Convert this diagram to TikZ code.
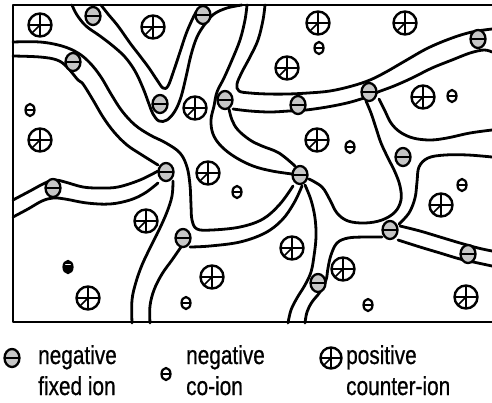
\documentclass[tikz,border=0pt]{standalone}
\usepackage{fontspec}
\usepackage{graphicx}
\setmainfont{Liberation Sans}
\newfontfamily\legfont[FakeBold=0.8]{Liberation Sans}
\usetikzlibrary{shapes.geometric}

\tikzset{
  wall/.style={line width=2.8pt, line cap=round, line join=round},
  frameline/.style={line width=2.2pt, line cap=round, line join=round},
  fixedion/.style={ellipse, draw, line width=2.3pt, fill=black!22, inner sep=0pt,
    minimum width=15pt, minimum height=18pt,
    path picture={\draw[line width=2.4pt] (path picture bounding box.west) -- (path picture bounding box.east);}},
  counterion/.style={circle, draw, line width=2.4pt, fill=white, inner sep=0pt,
    minimum size=23pt,
    path picture={\draw[line width=1.7pt]
      (path picture bounding box.north) -- (path picture bounding box.south)
      (path picture bounding box.west) -- (path picture bounding box.east)
      (path picture bounding box.center) -- (path picture bounding box.south west);}},
  coion/.style={ellipse, draw, line width=2.2pt, fill=white, inner sep=0pt,
    minimum width=9pt, minimum height=12pt,
    path picture={\draw[line width=2pt] (path picture bounding box.west) -- (path picture bounding box.east);}},
  coiondark/.style={ellipse, draw, line width=2.2pt, fill=black, inner sep=0pt,
    minimum width=9pt, minimum height=12pt,
    path picture={\draw[white, line width=1.8pt] ([yshift=2.6pt]path picture bounding box.west) -- ([yshift=2.6pt]path picture bounding box.east);}},
  legtext/.style={font=\legfont\fontsize{26}{31}\selectfont, inner sep=0pt, anchor=base west},
}

\newcommand{\narrow}[1]{\scalebox{0.8}[1]{#1}}

\begin{document}
\begin{tikzpicture}[x=1pt, y=-1pt]
\useasboundingbox (0,0) rectangle (492,402);

% membrane frame
\draw[frameline] (492,5) -- (13,5) -- (13,322) -- (492,322);

% ---- channel walls ----
% upper-left channel, upper wall, bending down into the lower-middle channel
\draw[wall] plot[smooth, tension=0.6] coordinates {(13,42) (40,42) (62,46) (78,53) (90,63) (101,77) (111,94) (122,111) (135,125) (150,135) (166,143) (180,153) (187,167) (190,185) (191,205) (192,220) (197,229) (212,230) (240,227) (263,219) (280,204) (293,186)};
% upper-left channel, lower wall
\draw[wall] plot[smooth, tension=0.6] coordinates {(13,56) (40,57) (57,60) (67,67) (78,80) (83,84) (93,100) (103,117) (114,132) (127,145) (142,155) (158,165)};
% V-shaped channel, outer wall
\draw[wall] plot[smooth, tension=0.6] coordinates {(72,5) (77,15) (86,26) (100,36) (113,46) (125,57) (135,71) (143,88) (149,104) (153,114) (159,121) (167,120) (175,111) (181,97) (186,77) (191,55) (197,37) (205,24) (214,14) (227,8) (242,5)};
% V-shaped channel, inner wall
\draw[wall] plot[smooth, tension=0.6] coordinates {(101,5) (108,14) (118,26) (130,43) (140,56) (149,68) (157,80) (163,88) (168,86) (174,70) (180,52) (186,34) (192,20) (196,12)};
% top channel, left wall continuing down to the centre
\draw[wall] plot[smooth, tension=0.6] coordinates {(247,5) (245,20) (240,40) (232,60) (224,78) (217,92) (214,106) (211,120) (213,134) (221,146) (235,157) (253,166) (272,171) (292,174)};
% top channel, right wall turning into the upper wall of the long channel
\draw[wall] plot[smooth, tension=0.6] coordinates {(265,5) (263,20) (258,40) (250,57) (242,72) (237,84) (239,91) (250,93) (268,94) (288,94) (308,93) (330,91) (352,86) (370,80) (386,72) (405,61) (428,48) (452,38) (472,32) (492,29)};
% long channel, lower wall
\draw[wall] plot[smooth, tension=0.6] coordinates {(233,109) (250,111) (270,112) (289,111) (306,110) (327,107) (347,103) (361,99) (370,96) (378,92) (394,86) (412,78) (432,68) (452,60) (470,53) (484,50) (492,52)};
% centre channel, upper wall
\draw[wall] plot[smooth, tension=0.6] coordinates {(229,109) (232,120) (238,130) (250,140) (262,146) (279,153) (295,166)};
% descending channel, left wall and basin
\draw[wall] plot[smooth, tension=0.6] coordinates {(366,101) (371,113) (376,128) (381,143) (388,158) (395,172) (400,186) (401,200) (395,212) (382,220) (365,223) (348,221) (337,213) (330,200) (322,187) (309,179)};
% descending channel, right wall
\draw[wall] plot[smooth, tension=0.6] coordinates {(379,99) (385,111) (391,123) (400,132) (413,138) (430,140) (447,138) (470,133) (492,130)};
% right channel, lower wall turning down
\draw[wall] plot[smooth, tension=0.6] coordinates {(492,157) (468,155) (445,155) (428,158) (419,167) (417,182) (415,198) (409,213) (399,224)};
% lower-right channel walls
\draw[wall] plot[smooth, tension=0.6] coordinates {(400,226) (420,231) (440,237) (460,243) (478,248) (492,251)};
\draw[wall] plot[smooth, tension=0.6] coordinates {(398,240) (420,247) (440,253) (460,259) (478,263) (492,266)};
% bottom channel, right wall
\draw[wall] plot[smooth, tension=0.6] coordinates {(382,237) (365,237) (348,238) (337,243) (331,255) (328,268) (326,280) (320,292) (312,302) (307,312) (305,323)};
% bottom channel, left wall
\draw[wall] plot[smooth, tension=0.6] coordinates {(305,185) (311,200) (315,218) (316,237) (314,256) (311,272) (305,285) (297,298) (291,310) (288,323)};
% lower-middle channel, lower wall
\draw[wall] plot[smooth, tension=0.6] coordinates {(190,247) (210,246) (240,242) (265,233) (282,220) (294,203) (302,186)};
% left channel walls
\draw[wall] plot[smooth, tension=0.6] coordinates {(13,200) (30,191) (45,183) (55,180) (65,182) (83,187) (100,188) (118,187) (140,180) (158,171)};
\draw[wall] plot[smooth, tension=0.6] coordinates {(13,217) (28,209) (42,201) (53,198) (65,199) (87,203) (110,204) (130,200) (145,193) (158,183)};
% lower-left channel walls
\draw[wall] plot[smooth, tension=0.6] coordinates {(173,181) (172,196) (167,212) (159,230) (150,248) (142,265) (136,282) (132,300) (132,323)};
\draw[wall] plot[smooth, tension=0.6] coordinates {(181,247) (172,260) (162,274) (154,290) (150,306) (150,323)};

% ---- negative fixed ions ----
\node[fixedion] (f1) at (93,16) {};
\node[fixedion] (f2) at (203,15) {};
\node[fixedion] (f3) at (73,62) {};
\node[fixedion] (f4) at (160,104) {};
\node[fixedion] (f5) at (225,100) {};
\node[fixedion] (f6) at (298,105) {};
\node[fixedion] (f7) at (369,92) {};
\node[fixedion] (f8) at (478,39) {};
\node[fixedion] (f9) at (166,172) {};
\node[fixedion] (f10) at (53,188) {};
\node[fixedion] (f11) at (183,238) {};
\node[fixedion] (f12) at (300,175) {};
\node[fixedion] (f13) at (403,157) {};
\node[fixedion] (f14) at (390,230) {};
\node[fixedion] (f15) at (468,254) {};
\node[fixedion] (f16) at (318,283) {};

% ---- positive counter-ions ----
\node[counterion] (p1) at (40,25) {};
\node[counterion] (p2) at (153,27) {};
\node[counterion] (p3) at (318,23) {};
\node[counterion] (p4) at (405,23) {};
\node[counterion] (p5) at (287,68) {};
\node[counterion] (p6) at (195,108) {};
\node[counterion] (p7) at (423,97) {};
\node[counterion] (p8) at (40,140) {};
\node[counterion] (p9) at (317,140) {};
\node[counterion] (p10) at (208,173) {};
\node[counterion] (p11) at (146,221) {};
\node[counterion] (p12) at (441,205) {};
\node[counterion] (p13) at (292,248) {};
\node[counterion] (p14) at (343,269) {};
\node[counterion] (p15) at (212,277) {};
\node[counterion] (p16) at (88,298) {};
\node[counterion] (p17) at (466,297) {};

% ---- negative co-ions ----
\node[coion] (c1) at (319,48) {};
\node[coion] (c2) at (452,96) {};
\node[coion] (c3) at (30,110) {};
\node[coion] (c4) at (350,147) {};
\node[coion] (c5) at (237,192) {};
\node[coion] (c6) at (462,185) {};
\node[coiondark] (c7) at (68,267) {};
\node[coion] (c8) at (186,303) {};
\node[coion] (c9) at (368,305) {};

% ---- legend ----
\node[fixedion] (lgf) at (12,358) {};
\node[legtext] (lgf1) at (38,364) {\narrow{negative}};
\node[legtext] (lgf2) at (38,395) {\narrow{fixed ion}};
\node[coion] (lgc) at (166,374) {};
\node[legtext] (lgc1) at (186,364) {\narrow{negative}};
\node[legtext] (lgc2) at (186,395) {\narrow{co-ion}};
\node[counterion, minimum size=21pt] (lgp) at (331,358) {};
\node[legtext] (lgp1) at (346,364) {\narrow{positive}};
\node[legtext] (lgp2) at (346,395) {\narrow{counter-ion}};
\end{tikzpicture}
\end{document}
